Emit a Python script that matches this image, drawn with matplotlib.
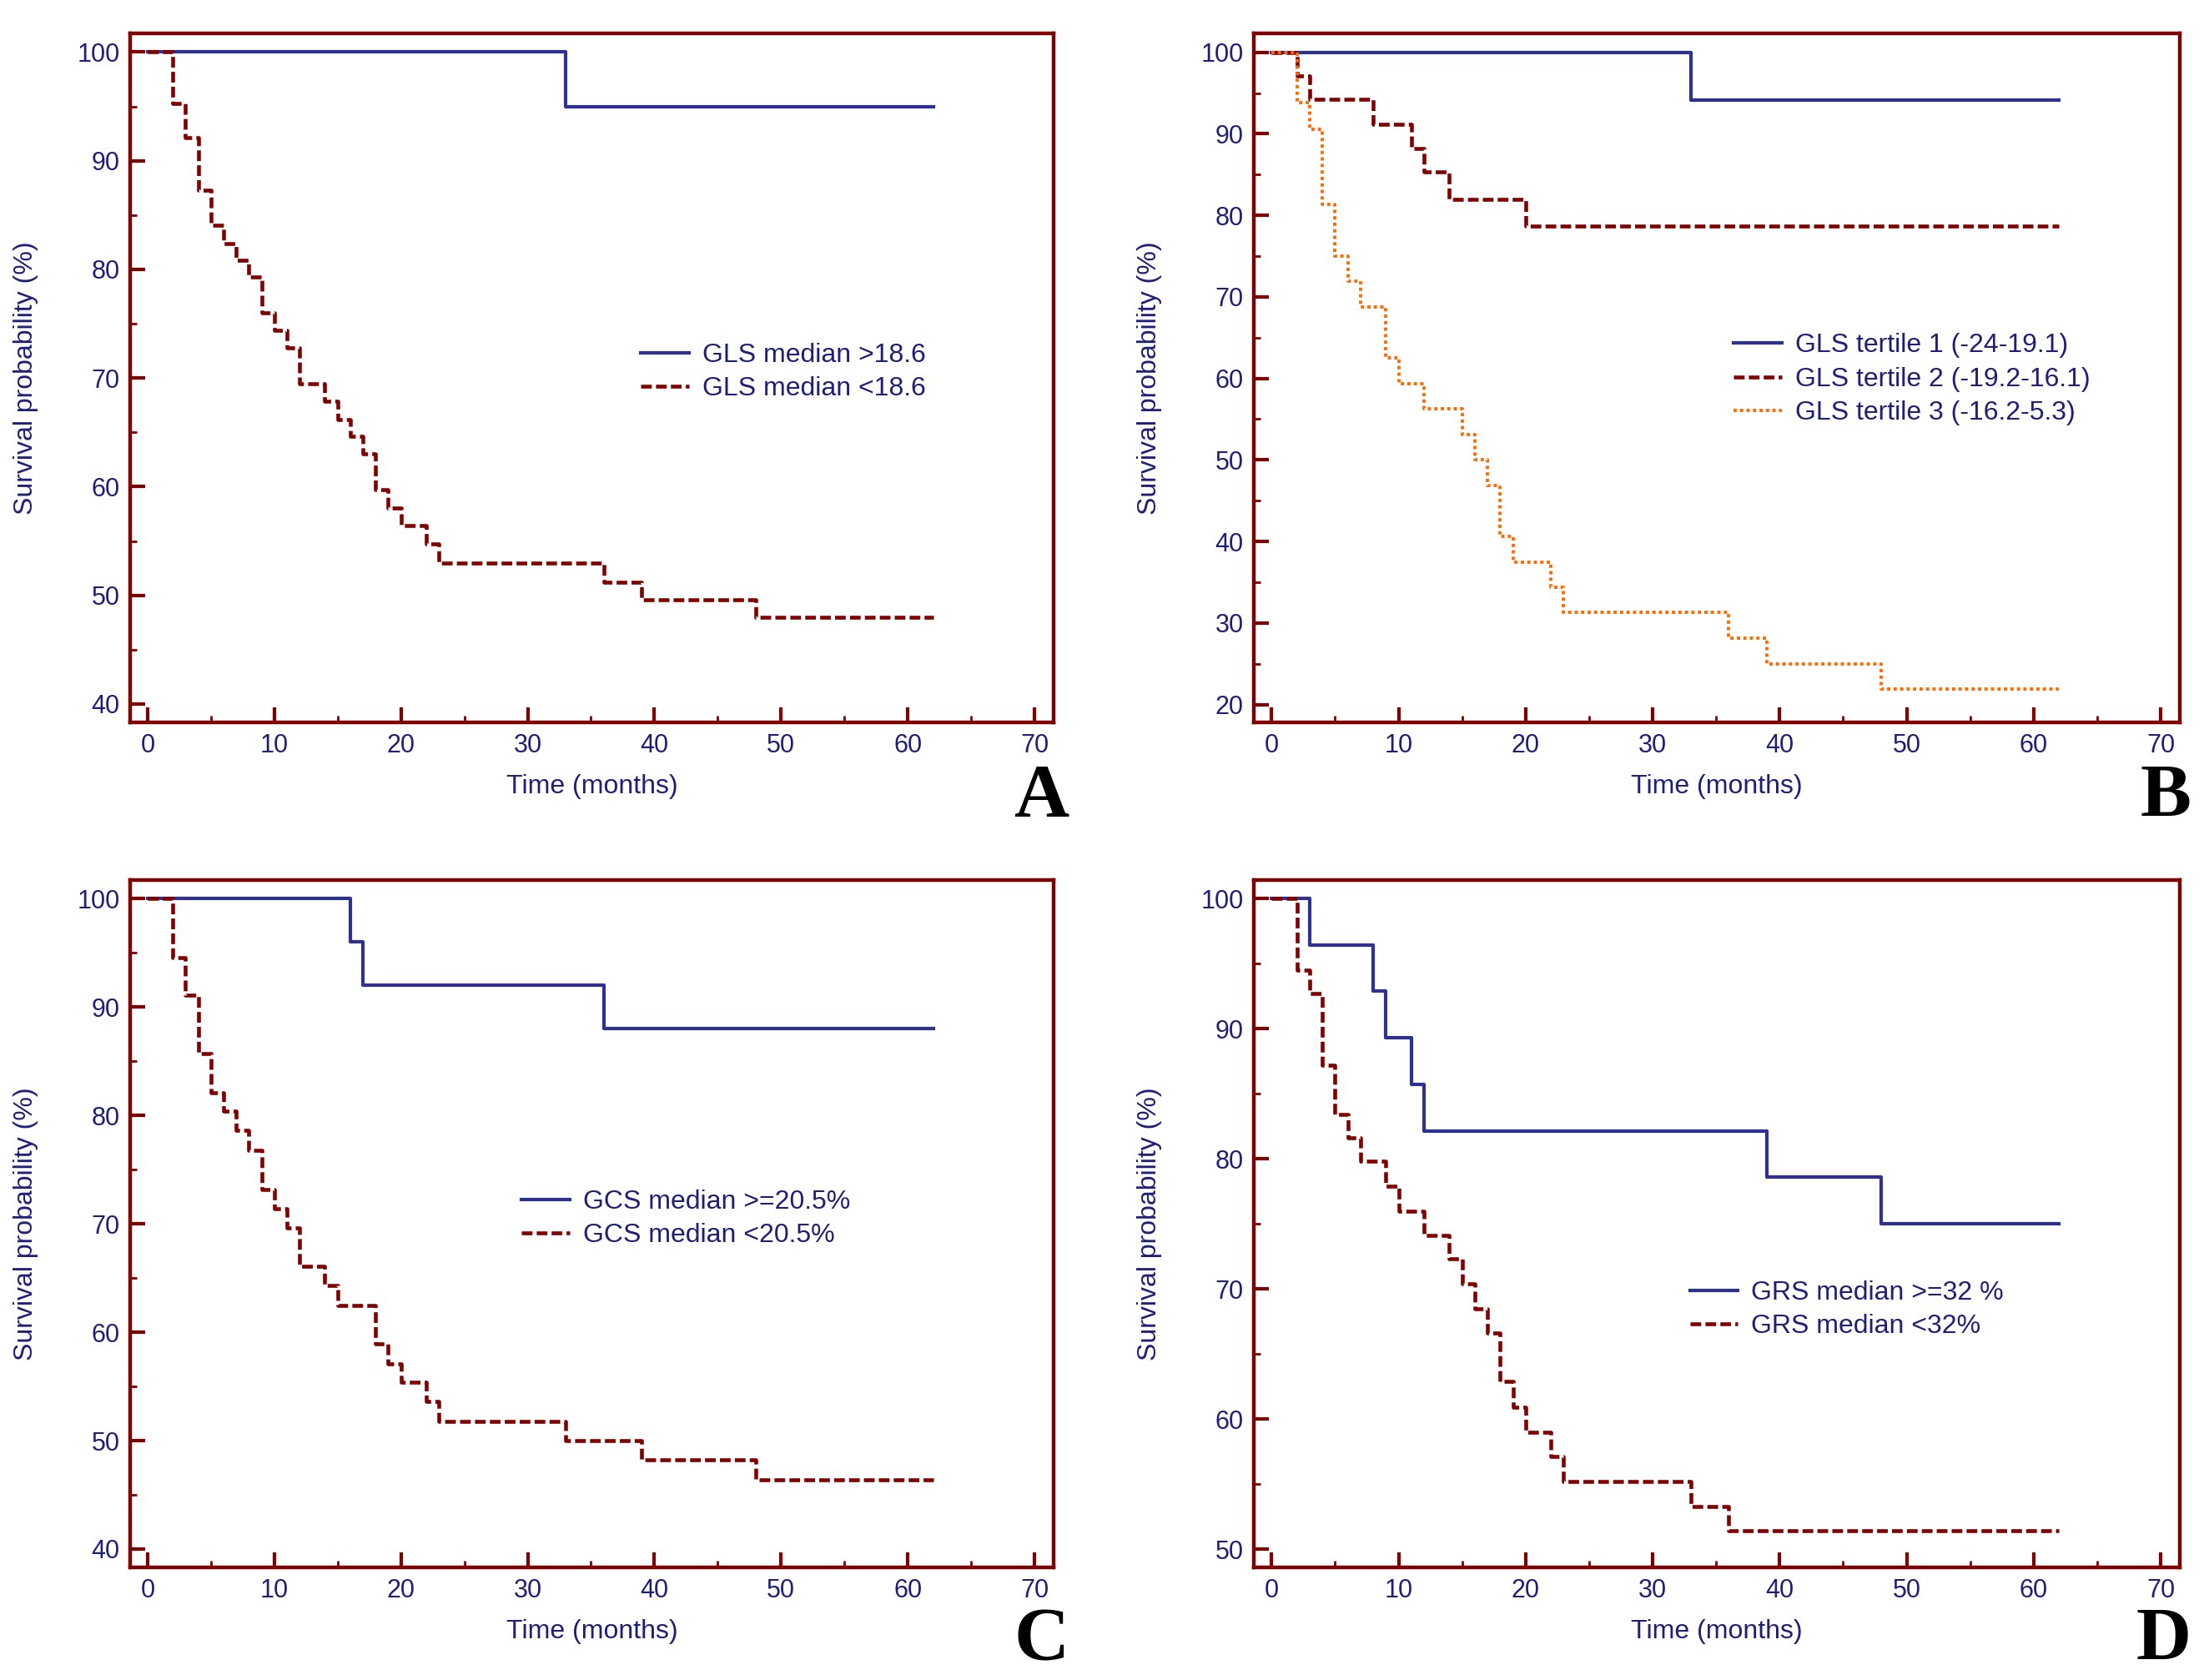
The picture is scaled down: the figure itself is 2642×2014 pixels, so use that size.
import numpy as np
import matplotlib.pyplot as plt
from matplotlib.ticker import MultipleLocator

plt.rcParams['font.family'] = ['Liberation Sans', 'DejaVu Sans']

# colores
NAVY = '#1f1f78'
BLUE = '#2e3192'
DRED = '#800000'
ORANGE = '#ff6a00'

# ---- datos (tiempo en meses, supervivencia en %) ----
# Panel A: GLS mediana
a_hi_t = [0, 33, 62]
a_hi_s = [100, 95.0, 95.0]
a_lo_t = [0, 2, 3, 4, 5, 6, 7, 8, 9, 10, 11, 12, 14, 15, 16, 17, 18, 19, 20, 22, 23, 36, 39, 48, 62]
a_lo_s = [100, 95.3, 92.1, 87.3, 84.1, 82.4, 80.8, 79.3, 76.0, 74.4, 72.8, 69.5, 67.9, 66.2,
          64.6, 63.0, 59.7, 58.0, 56.4, 54.7, 53.0, 51.2, 49.6, 48.0, 48.0]

# Panel B: GLS terciles
b_t1_t = [0, 33, 62]
b_t1_s = [100, 94.1, 94.1]
b_t2_t = [0, 2, 3, 8, 11, 12, 14, 20, 62]
b_t2_s = [100, 97.1, 94.2, 91.2, 88.2, 85.3, 82.0, 78.7, 78.7]
b_t3_t = [0, 2, 3, 4, 5, 6, 7, 9, 10, 12, 15, 16, 17, 18, 19, 22, 23, 36, 39, 48, 62]
b_t3_s = [100, 93.8, 90.6, 81.3, 75.0, 71.9, 68.8, 62.5, 59.4, 56.3, 53.1, 50.0, 46.9,
          40.6, 37.5, 34.4, 31.3, 28.1, 25.0, 21.9, 21.9]

# Panel C: GCS mediana
c_hi_t = [0, 16, 17, 36, 62]
c_hi_s = [100, 96.0, 92.0, 88.0, 88.0]
c_lo_t = [0, 2, 3, 4, 5, 6, 7, 8, 9, 10, 11, 12, 14, 15, 18, 19, 20, 22, 23, 33, 39, 48, 62]
c_lo_s = [100, 94.6, 91.1, 85.7, 82.1, 80.4, 78.6, 76.8, 73.2, 71.4, 69.6, 66.1, 64.3,
          62.5, 58.9, 57.1, 55.4, 53.6, 51.8, 50.0, 48.2, 46.4, 46.4]

# Panel D: GRS mediana
d_hi_t = [0, 3, 8, 9, 11, 12, 39, 48, 62]
d_hi_s = [100, 96.4, 92.9, 89.3, 85.7, 82.1, 78.6, 75.0, 75.0]
d_lo_t = [0, 2, 3, 4, 5, 6, 7, 9, 10, 12, 14, 15, 16, 17, 18, 19, 20, 22, 23, 33, 36, 62]
d_lo_s = [100, 94.5, 92.7, 87.2, 83.4, 81.6, 79.8, 77.9, 76.0, 74.1, 72.3, 70.4, 68.5,
          66.6, 62.9, 60.9, 59.0, 57.1, 55.2, 53.3, 51.4, 51.4]

fig = plt.figure(figsize=(26.42, 20.14), dpi=100)

# posiciones de los ejes [left, bottom, width, height]
pos = {
    'A': [0.059, 0.570, 0.419, 0.410],
    'B': [0.569, 0.570, 0.420, 0.410],
    'C': [0.059, 0.067, 0.419, 0.409],
    'D': [0.569, 0.067, 0.420, 0.409],
}


def estilo_eje(ax, ymin, ymax):
    ax.set_xlim(-1.38, 71.5)
    ax.set_ylim(ymin, ymax)
    ax.xaxis.set_minor_locator(MultipleLocator(5))
    ax.yaxis.set_minor_locator(MultipleLocator(5))
    ax.set_xticks(np.arange(0, 71, 10))
    ax.set_yticks(np.arange(np.ceil(ymin / 10) * 10, 101, 10))
    for s in ax.spines.values():
        s.set_color(DRED)
        s.set_linewidth(3.2)
    ax.tick_params(which='major', direction='in', length=13, width=3.0, color=DRED,
                   labelsize=22, labelcolor=NAVY, pad=9)
    ax.tick_params(which='minor', direction='in', length=6, width=2.0, color=DRED)
    ax.tick_params(top=False, right=False, which='both')
    ax.set_xlabel('Time (months)', fontsize=23, color=NAVY)
    ax.set_ylabel('Survival probability (%)', fontsize=23, color=NAVY)
    ax.xaxis.set_label_coords(0.5, -0.075)
    ax.yaxis.set_label_coords(-0.099, 0.5)


def leyenda(ax, x, y):
    ax.legend(loc='upper left', bbox_to_anchor=(x, y), frameon=False, fontsize=23,
              handlelength=1.8, handletextpad=0.5, labelspacing=0.32,
              borderpad=0, borderaxespad=0, labelcolor=NAVY)


dash = (2.8, 1.1)
LW_B = 3.0
LW_R = 3.3

# A
ax = fig.add_axes(pos['A'])
ax.step(a_hi_t, a_hi_s, where='post', color=BLUE, lw=LW_B, label='GLS median >18.6')
ax.step(a_lo_t, a_lo_s, where='post', color=DRED, lw=LW_R, dashes=dash, label='GLS median <18.6')
estilo_eje(ax, 38.3, 101.7)
leyenda(ax, 0.553, 0.551)

# B
ax = fig.add_axes(pos['B'])
ax.step(b_t1_t, b_t1_s, where='post', color=BLUE, lw=LW_B, label='GLS tertile 1 (-24-19.1)')
ax.step(b_t2_t, b_t2_s, where='post', color=DRED, lw=LW_R, dashes=dash, label='GLS tertile 2 (-19.2-16.1)')
ax.step(b_t3_t, b_t3_s, where='post', color=ORANGE, lw=2.8, dashes=(1, 1.0), label='GLS tertile 3 (-16.2-5.3)')
estilo_eje(ax, 17.8, 102.3)
leyenda(ax, 0.518, 0.565)

# C
ax = fig.add_axes(pos['C'])
ax.step(c_hi_t, c_hi_s, where='post', color=BLUE, lw=LW_B, label='GCS median >=20.5%')
ax.step(c_lo_t, c_lo_s, where='post', color=DRED, lw=LW_R, dashes=dash, label='GCS median <20.5%')
estilo_eje(ax, 38.3, 101.7)
leyenda(ax, 0.424, 0.550)

# D
ax = fig.add_axes(pos['D'])
ax.step(d_hi_t, d_hi_s, where='post', color=BLUE, lw=LW_B, label='GRS median >=32 %')
ax.step(d_lo_t, d_lo_s, where='post', color=DRED, lw=LW_R, dashes=dash, label='GRS median <32%')
estilo_eje(ax, 48.6, 101.4)
leyenda(ax, 0.471, 0.418)

# letras de panel
letras = {'A': (0.485, 0.514), 'B': (0.994, 0.514), 'C': (0.485, 0.012), 'D': (0.994, 0.012)}
for k, (x, y) in letras.items():
    fig.text(x, y, k, ha='right', va='baseline', fontsize=66, fontweight='bold',
             family=['Liberation Serif', 'DejaVu Serif'], color='black')

fig.savefig('out.png', dpi=100)
